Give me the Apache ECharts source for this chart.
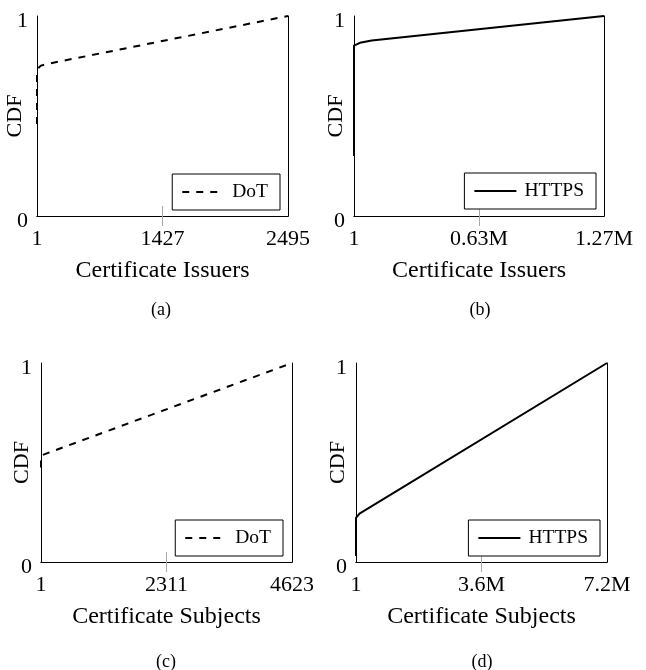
<!DOCTYPE html>
<html>
<head>
<meta charset="utf-8">
<script src="https://cdn.jsdelivr.net/npm/echarts@6/dist/echarts.min.js"></script>
<style>
html,body{margin:0;padding:0;background:#fff;}
#c{width:646px;height:670px;}
</style>
</head>
<body>
<div id="c"></div>
<script>
// ---- data ----
var dotIssuersX   = [1, 1, 15, 40, 100, 2495];
var dotIssuersY   = [0.46, 0.715, 0.74, 0.752, 0.76, 1];
var httpsIssuersX = [1, 1, 30000, 90000, 1270000];
var httpsIssuersY = [0.30, 0.852, 0.866, 0.877, 1];
var dotSubjectsX  = [1, 1, 4623];
var dotSubjectsY  = [0.475, 0.535, 1];
var httpsSubjectsX = [1, 1, 100000, 7200000];
var httpsSubjectsY = [0.03, 0.222, 0.243, 1];

var xMins = [1, 1, 1, 1];
var xMaxs = [2495, 1270000, 4623, 7200000];
var xTickLabelsA = ['1', '1427', '2495'];
var xTickLabelsB = ['1', '0.63M', '1.27M'];
var xTickLabelsC = ['1', '2311', '4623'];
var xTickLabelsD = ['1', '3.6M', '7.2M'];
var yTickLabels = ['0', '1'];
var xNames = ['Certificate Issuers', 'Certificate Issuers', 'Certificate Subjects', 'Certificate Subjects'];
var yName = 'CDF';
var seriesNames = ['DoT', 'HTTPS', 'DoT', 'HTTPS'];
var captions = ['(a)', '(b)', '(c)', '(d)'];

// ---- layout ----
var FONT = 'Liberation Serif';
var grids = [
  {left: 37, top: 16, width: 251, height: 200},
  {left: 354, top: 16, width: 250, height: 200},
  {left: 41, top: 363, width: 251, height: 199},
  {left: 356, top: 363, width: 251, height: 199}
].map(function (g) { g.containLabel = false; g.outerBoundsMode = 'none'; return g; });
var yNameGaps = [11, 7, 8, 7];
var legendPos = [
  {right: 366, bottom: 460},
  {right: 50, bottom: 461},
  {right: 363, bottom: 114},
  {right: 46, bottom: 114}
];
var captionPos = [[161, 310], [480, 310], [166, 662], [482, 662]];
var tickLabelSets = [xTickLabelsA, xTickLabelsB, xTickLabelsC, xTickLabelsD];
var xsets = [dotIssuersX, httpsIssuersX, dotSubjectsX, httpsSubjectsX];
var ysets = [dotIssuersY, httpsIssuersY, dotSubjectsY, httpsSubjectsY];

function pairs(xs, ys) { return xs.map(function (x, i) { return [x, ys[i]]; }); }

var xAxes = [], yAxes = [], series = [], legends = [], graphics = [];
for (var i = 0; i < 4; i++) {
  var mn = xMins[i], mx = xMaxs[i], iv = (mx - mn) / 2, mid = mn + iv;
  (function (labels) {
    xAxes.push({
      type: 'value', gridIndex: i, position: 'bottom',
      min: mn, max: mx, interval: iv,
      name: xNames[i], nameLocation: 'middle', nameGap: 43, nameMoveOverlap: false,
      nameTextStyle: {fontFamily: FONT, fontSize: 24, color: '#000'},
      axisLine: {show: true, lineStyle: {color: '#000', width: 1}},
      axisTick: {show: true, inside: true, length: 10, customValues: [mid], lineStyle: {color: '#a8a8a8', width: 1}},
      splitLine: {show: false},
      axisLabel: {show: true, margin: 12, fontFamily: FONT, fontSize: 22, color: '#000',
        showMinLabel: true, showMaxLabel: true,
        formatter: function (v, idx) { return labels[idx] !== undefined ? labels[idx] : ''; }}
    });
  })(tickLabelSets[i]);
  xAxes.push({
    type: 'value', gridIndex: i, position: 'top',
    min: mn, max: mx, interval: iv,
    axisLine: {show: true, lineStyle: {color: '#000', width: 1}},
    axisTick: {show: true, inside: true, length: 10, customValues: [mid], lineStyle: {color: '#a8a8a8', width: 1}},
    splitLine: {show: false}, axisLabel: {show: false}
  });
  yAxes.push({
    type: 'value', gridIndex: i, position: 'left',
    min: 0, max: 1, interval: 1,
    name: yName, nameLocation: 'middle', nameGap: yNameGaps[i], nameMoveOverlap: false,
    nameTextStyle: {fontFamily: FONT, fontSize: 22, color: '#000'},
    axisLine: {show: true, lineStyle: {color: '#000', width: 1}},
    axisTick: {show: false}, splitLine: {show: false},
    axisLabel: {show: true, margin: 9, fontFamily: FONT, fontSize: 22, color: '#000',
      verticalAlign: 'top', lineHeight: 11,
      formatter: function (v) { return v === 0 ? yTickLabels[0] : yTickLabels[1]; }}
  });
  yAxes.push({
    type: 'value', gridIndex: i, position: 'right',
    min: 0, max: 1, interval: 1,
    axisLine: {show: true, lineStyle: {color: '#000', width: 1}},
    axisTick: {show: false}, splitLine: {show: false}, axisLabel: {show: false}
  });
  var dashed = seriesNames[i] === 'DoT';
  series.push({
    type: 'line', name: seriesNames[i],
    xAxisIndex: i * 2, yAxisIndex: i * 2,
    data: pairs(xsets[i], ysets[i]),
    symbol: 'none', clip: false, smooth: false,
    lineStyle: {color: '#000', width: 2, type: dashed ? [7, 7] : 'solid'},
    itemStyle: {color: '#000'},
    z: 5
  });
  legends.push({
    data: [seriesNames[i]],
    right: legendPos[i].right, bottom: legendPos[i].bottom,
    orient: 'vertical', selectedMode: false,
    itemWidth: 42, itemHeight: 14,
    padding: [8, 12, 8, 9],
    borderColor: '#000', borderWidth: 1, backgroundColor: '#fff',
    itemStyle: {color: 'rgba(0,0,0,0)', borderColor: 'rgba(0,0,0,0)', borderWidth: 0, opacity: 0},
    textStyle: {fontFamily: FONT, fontSize: 19.5, color: '#000', padding: [0, 0, 0, 3]}
  });
  graphics.push({
    type: 'text', x: captionPos[i][0], y: captionPos[i][1],
    style: {text: captions[i], fontFamily: FONT, fontSize: 18, fill: '#000',
      textAlign: 'center', textVerticalAlign: 'middle'}
  });
}

var chart = echarts.init(document.getElementById('c'), null, {renderer: 'canvas'});
chart.setOption({
  animation: false,
  backgroundColor: '#fff',
  grid: grids,
  xAxis: xAxes,
  yAxis: yAxes,
  series: series,
  legend: legends,
  graphic: graphics
});
</script>
</body>
</html>
